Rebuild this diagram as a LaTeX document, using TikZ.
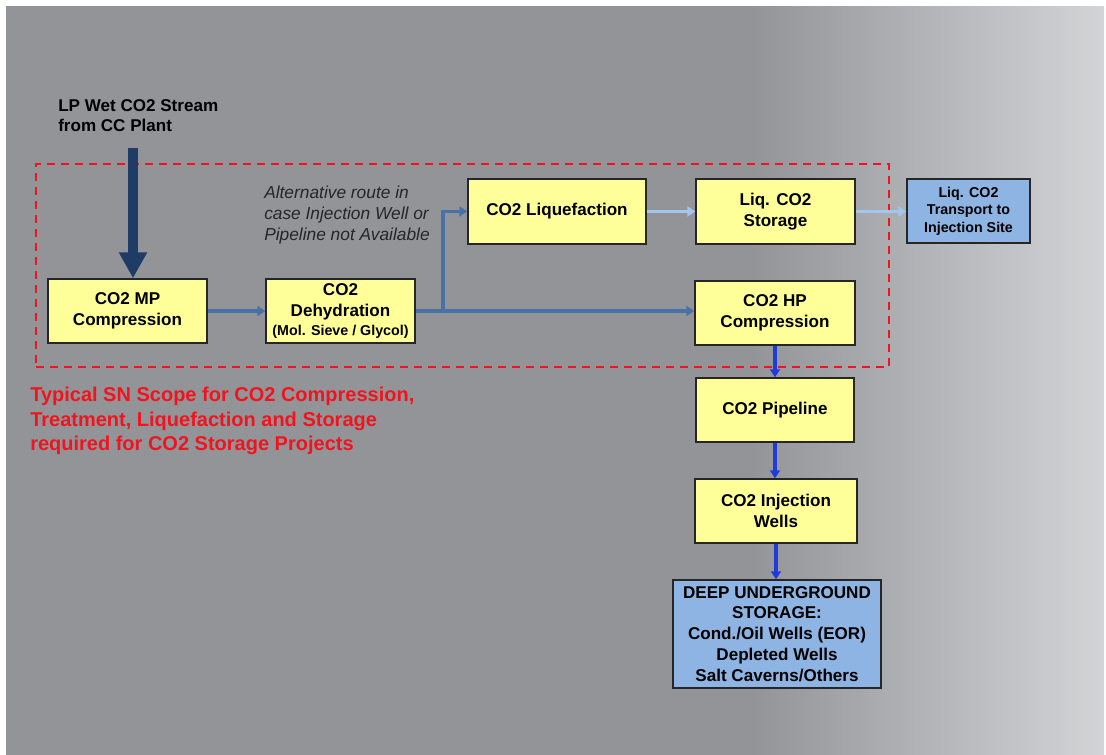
\documentclass[tikz,border=0pt]{standalone}
\usepackage{fontspec}
\setmainfont{Liberation Sans}
\usetikzlibrary{arrows.meta,calc}
\definecolor{bggray}{HTML}{939498}
\definecolor{bglight}{HTML}{D3D4D6}
\definecolor{boxyellow}{HTML}{FFFF99}
\definecolor{boxblue}{HTML}{8EB4E3}
\definecolor{navy}{HTML}{1E3C66}
\definecolor{steel}{HTML}{4A70A8}
\definecolor{lightb}{HTML}{A2C6F0}
\definecolor{brightb}{HTML}{1E3CDC}
\definecolor{scopered}{HTML}{F0141E}
\pgfdeclarehorizontalshading{bgshade}{100bp}{color(0bp)=(bggray); color(25bp)=(bggray); color(58.9bp)=(bggray); color(75bp)=(bglight); color(100bp)=(bglight)}
\begin{document}
\begin{tikzpicture}[x=0.75pt,y=-0.75pt,
  boxbase/.style={draw=black!85,line width=1.1pt,align=center,inner sep=0pt,
    font=\fontsize{12.8pt}{15.6pt}\selectfont\bfseries},
  ybox/.style={boxbase,fill=boxyellow},
  bbox/.style={boxbase,fill=boxblue},
  flow/.style={draw=steel,line width=2.3pt,-{Triangle[width=7.5pt,length=6pt]}},
  liqflow/.style={draw=lightb,line width=2.3pt,-{Triangle[width=7.5pt,length=6pt]}},
  outflow/.style={draw=brightb,line width=2.3pt,-{Triangle[width=7.5pt,length=6pt]}},
  feed/.style={draw=navy,line width=6.8pt,-{Triangle[width=20pt,length=19.5pt]}},
  scopebox/.style={draw=scopered,line width=1.6pt,dash pattern=on 6pt off 4.5pt,inner sep=0pt},
  note/.style={inner sep=0pt,anchor=north west,align=left}
]
% canvas
\useasboundingbox (0,0) rectangle (1106,755);
\fill[white] (0,0) rectangle (1106,755);
\shade[shading=bgshade] (6,7) rectangle (1104,755);

% scope frame
\node[scopebox,minimum width=639.75pt,minimum height=152.25pt] (scope) at (462.5,265.5) {};

% boxes
\node[ybox,minimum width=119.25pt,minimum height=48pt] (mp) at (127.5,311) {CO2 MP\\Compression};
\node[ybox,minimum width=111.75pt,minimum height=48pt] (deh) at (340.5,311)
  {CO2\\Dehydration\\[-1pt]{\fontsize{10.7pt}{12pt}\selectfont(Mol. Sieve / Glycol)}};
\node[ybox,minimum width=133.5pt,minimum height=48.75pt] (liq) at (557,211.5) {CO2 Liquefaction};
\node[ybox,minimum width=119.25pt,minimum height=48.75pt] (sto) at (775.5,211.5) {Liq. CO2\\Storage};
\node[ybox,minimum width=120pt,minimum height=48pt] (hp) at (775,313) {CO2 HP\\Compression};
\node[bbox,minimum width=92.25pt,minimum height=48pt,
  font=\fontsize{10.7pt}{13pt}\selectfont\bfseries] (tra) at (968.5,211) {Liq. CO2\\Transport to\\Injection Site};
\node[ybox,minimum width=118.5pt,minimum height=48pt] (pipe) at (775,410) {CO2 Pipeline};
\node[ybox,minimum width=121.5pt,minimum height=48pt] (inj) at (776,511) {CO2 Injection\\Wells};
\node[bbox,minimum width=156pt,minimum height=81pt] (deep) at (777,634)
  {DEEP UNDERGROUND\\STORAGE:\\Cond./Oil Wells (EOR)\\Depleted Wells\\Salt Caverns/Others};

% texts
\node[note,font=\fontsize{12.8pt}{15pt}\selectfont\bfseries] (lp) at (58,99)
  {LP Wet CO2 Stream\\from CC Plant};
\node[note,font=\fontsize{13pt}{15.75pt}\selectfont\itshape,text=black!85] (alt) at (264,186)
  {Alternative route in\\case Injection Well or\\Pipeline not Available};
\node[note,font=\fontsize{15pt}{18.4pt}\selectfont\bfseries,text=scopered] (sn) at (30,387)
  {Typical SN Scope for CO2 Compression,\\Treatment, Liquefaction and Storage\\required for CO2 Storage Projects};

% connectors
\coordinate (src) at (133,148);
\coordinate (br) at (443,311);
\draw[feed] (src) -- (src |- mp.north);
\draw[flow] (mp.east) -- (deh.west);
\draw[flow] (deh.east) -- (deh.east -| hp.west);
\draw[flow] (br) |- (liq.west);
\draw[liqflow] (liq.east) -- (sto.west);
\draw[liqflow] (sto.east) -- (sto.east -| tra.west);
\draw[outflow] (hp.south) -- (pipe.north);
\draw[outflow] (pipe.south) -- (pipe.south |- inj.north);
\draw[outflow] (inj.south) -- (inj.south |- deep.north);
\end{tikzpicture}
\end{document}
